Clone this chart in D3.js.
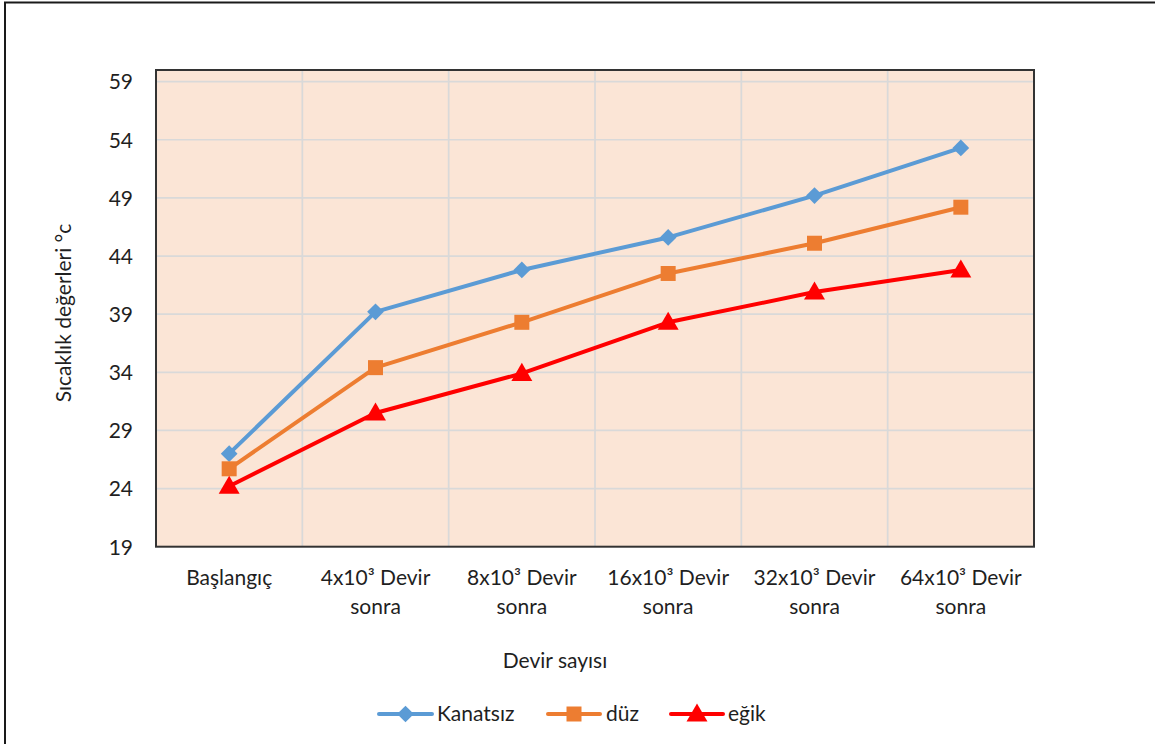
<!DOCTYPE html>
<html>
<head>
<meta charset="utf-8">
<script src="https://cdn.jsdelivr.net/npm/d3@7"></script>
<style>
  html, body { margin: 0; padding: 0; background: #fff; }
  svg { display: block; }
  text { font-family: Lato, "Noto Sans", sans-serif; fill: #1f1f1f; }
</style>
</head>
<body>
<svg id="chart" width="1155" height="744"></svg>
<script>
// ---- data ----
const categories = ["Başlangıç", "4x10³ Devir sonra", "8x10³ Devir sonra", "16x10³ Devir sonra", "32x10³ Devir sonra", "64x10³ Devir sonra"];
const kanatsiz = [27.0, 39.2, 42.8, 45.6, 49.2, 53.3];
const duz      = [25.7, 34.4, 38.3, 42.5, 45.1, 48.2];
const egik     = [24.2, 30.5, 33.9, 38.3, 40.9, 42.8];
const yTicks = [19, 24, 29, 34, 39, 44, 49, 54, 59];
const seriesNames = ["Kanatsız", "düz", "eğik"];
const yTitle = "Sıcaklık değerleri °c";
const xTitle = "Devir sayısı";

// ---- layout ----
const W = 1155, H = 744;
const plot = { left: 156, top: 70, right: 1034, bottom: 546.7 };
const svg = d3.select("#chart");
const fs = 21;

// outer border
svg.append("rect").attr("x", 5).attr("y", 2.5).attr("width", W + 20).attr("height", H + 20)
  .attr("fill", "none").attr("stroke", "#1a1a1a").attr("stroke-width", 2);

const x = d3.scaleBand().domain(categories).range([plot.left, plot.right]).padding(0);
const y = d3.scaleLinear().domain([19, 60]).range([plot.bottom, plot.top]);
const cx = c => x(c) + x.bandwidth() / 2;

// plot background
svg.append("rect").attr("x", plot.left).attr("y", plot.top)
  .attr("width", plot.right - plot.left).attr("height", plot.bottom - plot.top)
  .attr("fill", "#FBE5D6");

// horizontal gridlines
svg.append("g").selectAll("line").data(yTicks.slice(1)).join("line")
  .attr("x1", plot.left).attr("x2", plot.right)
  .attr("y1", d => y(d)).attr("y2", d => y(d))
  .attr("stroke", "#D9D9D9").attr("stroke-width", 1.7);
// vertical gridlines at category boundaries
svg.append("g").selectAll("line").data(categories.slice(1)).join("line")
  .attr("x1", d => x(d)).attr("x2", d => x(d))
  .attr("y1", plot.top).attr("y2", plot.bottom)
  .attr("stroke", "#D9D9D9").attr("stroke-width", 1.7);

// plot border
svg.append("rect").attr("x", plot.left).attr("y", plot.top)
  .attr("width", plot.right - plot.left).attr("height", plot.bottom - plot.top)
  .attr("fill", "none").attr("stroke", "#333333").attr("stroke-width", 2);

// y axis labels
const yAxis = d3.axisLeft(y).tickValues(yTicks).tickSize(0).tickPadding(23);
const gy = svg.append("g").attr("transform", `translate(${plot.left},0)`).call(yAxis);
gy.select(".domain").remove();
gy.selectAll("text").style("font-size", fs + "px").style("font-family", "Lato, sans-serif").attr("fill", "#1f1f1f").attr("dy", "0.35em");

// x axis labels (custom wrap)
const xAxis = d3.axisBottom(x).tickSize(0).tickPadding(0);
const gx = svg.append("g").attr("transform", `translate(0,${plot.bottom})`).call(xAxis);
gx.select(".domain").remove();
gx.selectAll(".tick text").each(function(d) {
  const t = d3.select(this);
  t.text(null).attr("y", 0).attr("dy", null)
    .style("font-size", fs + "px").style("font-family", "Lato, sans-serif").attr("fill", "#1f1f1f");
  const lines = d.replace(" sonra", "\nsonra").split("\n");
  lines.forEach((ln, i) => {
    t.append("tspan").attr("x", 0).attr("y", 38 + i * 29).text(ln);
  });
});

// axis titles
svg.append("text").attr("transform", `translate(71,313) rotate(-90)`)
  .attr("text-anchor", "middle").style("font-size", fs + "px").text(yTitle);
svg.append("text").attr("x", 555).attr("y", 668)
  .attr("text-anchor", "middle").style("font-size", fs + "px").text(xTitle);

// series
const colors = ["#5B9BD5", "#ED7D31", "#FF0000"];
const seriesData = [kanatsiz, duz, egik];
const symbols = [d3.symbolSquare, d3.symbolSquare, d3.symbolTriangle];
const symSizes = [140, 225, 190];
const rotations = [45, 0, 0];
const yOff = [0, 0, 1.5];
const line = d3.line().x((v, i) => cx(categories[i])).y(v => y(v));

seriesData.forEach((vals, s) => {
  svg.append("path").datum(vals).attr("d", line)
    .attr("fill", "none").attr("stroke", colors[s]).attr("stroke-width", 4)
    .attr("stroke-linejoin", "round");
});
seriesData.forEach((vals, s) => {
  svg.append("g").selectAll("path").data(vals).join("path")
    .attr("transform", (v, i) => `translate(${cx(categories[i])},${y(v) + yOff[s]}) rotate(${rotations[s]})`)
    .attr("d", d3.symbol().type(symbols[s]).size(symSizes[s]))
    .attr("fill", colors[s]);
});

// legend
const legendItems = [
  { x0: 379, x1: 432, tx: 437 },
  { x0: 548, x1: 600, tx: 606 },
  { x0: 671, x1: 723, tx: 728 }
];
const ly = 714;
seriesNames.forEach((name, s) => {
  const it = legendItems[s];
  svg.append("line").attr("x1", it.x0).attr("x2", it.x1).attr("y1", ly).attr("y2", ly)
    .attr("stroke", colors[s]).attr("stroke-width", 4).attr("stroke-linecap", "round");
  svg.append("path").attr("transform", `translate(${(it.x0 + it.x1) / 2},${ly + yOff[s]}) rotate(${rotations[s]})`)
    .attr("d", d3.symbol().type(symbols[s]).size(symSizes[s]))
    .attr("fill", colors[s]);
  svg.append("text").attr("x", it.tx).attr("y", ly).attr("dy", "0.35em")
    .style("font-size", fs + "px").text(name);
});
</script>
</body>
</html>
